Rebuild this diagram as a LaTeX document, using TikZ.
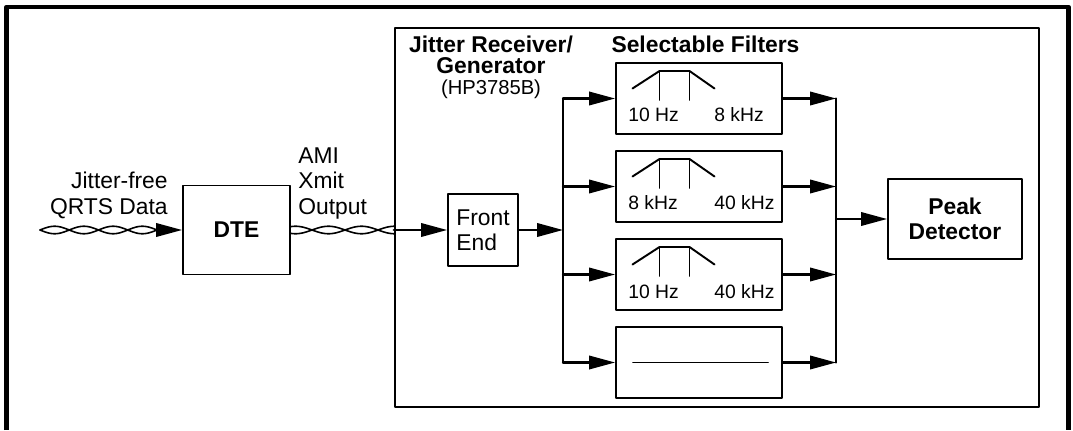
\documentclass[tikz,border=0pt]{standalone}
\usepackage{fontspec}
\setmainfont{Liberation Sans}
\usetikzlibrary{arrows.meta}

\begin{document}
\begin{tikzpicture}[line cap=round,line join=round,
  >={Triangle[length=0.52cm,width=0.27cm]},
  txt/.style={font=\fontsize{13}{14.5}\selectfont},
  bold/.style={font=\fontsize{13}{14.5}\selectfont\bfseries},
  flbl/.style={font=\fontsize{11}{13}\selectfont,inner sep=0pt,anchor=base west},
  blk/.style={draw,line width=1.1pt,inner sep=0pt,align=center},
  filt/.style={blk,minimum width=3.32cm,minimum height=1.42cm},
  wire/.style={line width=1.2pt},
  band/.style={line width=1.1pt},
  pair/.style={line width=0.9pt},
  frame/.style={line width=2.5pt,line cap=butt}]

  \useasboundingbox (0,0) rectangle (21.46,8.6);
  % outer frame, open at the bottom
  \draw[frame] (0.13,0) -- (0.13,8.46) -- (21.37,8.46) -- (21.37,0);

  % ---- test set housing ----
  \node[blk,line width=1.4pt,minimum width=12.88cm,minimum height=7.58cm] (rx) at (14.34,4.25) {};
  \node[bold,font=\fontsize{13}{12}\selectfont\bfseries,anchor=base,align=center,inner sep=0pt] (rxlbl) at (9.82,6.70)
    {Jitter Receiver/\\Generator\\{\normalfont\fontsize{11.5}{12}\selectfont(HP3785B)}};
  \node[bold,anchor=base,inner sep=0pt] (sellbl) at (14.11,7.54) {Selectable Filters};

  % ---- blocks ----
  \node[blk,bold,minimum width=2.14cm,minimum height=1.78cm] (dte) at (4.73,4.0) {DTE};
  \node[blk,txt,align=left,minimum width=1.4cm,minimum height=1.44cm] (fe) at (9.66,4.0) {Front\\End};
  \node[blk,bold,minimum width=2.68cm,minimum height=1.6cm] (pk) at (19.1,4.22) {Peak\\Detector};

  \node[filt] (f1) at (13.98,6.63) {};
  \node[filt] (f2) at (13.98,4.87) {};
  \node[filt] (f3) at (13.98,3.11) {};
  \node[filt] (f4) at (13.98,1.35) {};

  % passbands
  \draw[band] (12.65,6.83) -- (13.19,7.18) -- (13.79,7.18) -- (14.29,6.83);
  \draw[band] (13.19,7.18) -- (13.19,6.60) (13.79,7.18) -- (13.79,6.60);
  \node[flbl] (f1lo) at (12.56,6.16) {10 Hz};
  \node[flbl] (f1hi) at (14.28,6.16) {8 kHz};

  \draw[band] (12.65,5.07) -- (13.19,5.42) -- (13.79,5.42) -- (14.29,5.07);
  \draw[band] (13.19,5.42) -- (13.19,4.84) (13.79,5.42) -- (13.79,4.84);
  \node[flbl] (f2lo) at (12.56,4.40) {8 kHz};
  \node[flbl] (f2hi) at (14.28,4.40) {40 kHz};

  \draw[band] (12.65,3.31) -- (13.19,3.66) -- (13.79,3.66) -- (14.29,3.31);
  \draw[band] (13.19,3.66) -- (13.19,3.08) (13.79,3.66) -- (13.79,3.08);
  \node[flbl] (f3lo) at (12.56,2.64) {10 Hz};
  \node[flbl] (f3hi) at (14.28,2.64) {40 kHz};

  % all-pass
  \draw[band] (12.66,1.35) -- (15.36,1.35);

  % ---- input side ----
  \node[txt,anchor=base east,align=right,inner sep=0pt] (jfree) at (3.36,4.32) {Jitter-free\\QRTS Data};
  \node[txt,anchor=base west,align=left,inner sep=0pt] (ami) at (5.96,4.32) {AMI\\Xmit\\Output};

  % twisted pairs
  \coordinate (srcend) at (3.14,4.0);
  \draw[pair] plot[domain=0.80:3.14,samples=90,smooth] (\x,{4.0+0.075*sin(180*(\x-0.80)/0.585)});
  \draw[pair] plot[domain=0.80:3.14,samples=90,smooth] (\x,{4.0-0.075*sin(180*(\x-0.80)/0.585)});
  \draw[wire,->] (srcend) -- (dte.west);
  \draw[pair] plot[domain=5.80:7.90,samples=90,smooth] (\x,{4.0+0.075*sin(180*(\x-6.24)/0.66)});
  \draw[pair] plot[domain=5.80:7.90,samples=90,smooth] (\x,{4.0-0.075*sin(180*(\x-6.24)/0.66)});

  % ---- signal path ----
  \coordinate (busL) at (11.26,4.0);
  \coordinate (busR) at (16.72,4.0);
  \draw[wire,->] (fe.west -| rx.west) -- (fe.west);
  \draw[wire,->] (fe.east) -- (fe.east -| busL);
  \draw[wire] (f1.west -| busL) -- (f4.west -| busL);
  \draw[wire,->] (f1.west -| busL) -- (f1.west);
  \draw[wire,->] (f2.west -| busL) -- (f2.west);
  \draw[wire,->] (f3.west -| busL) -- (f3.west);
  \draw[wire,->] (f4.west -| busL) -- (f4.west);
  \draw[wire,->] (f1.east) -- (f1.east -| busR);
  \draw[wire,->] (f2.east) -- (f2.east -| busR);
  \draw[wire,->] (f3.east) -- (f3.east -| busR);
  \draw[wire,->] (f4.east) -- (f4.east -| busR);
  \draw[wire] (f1.east -| busR) -- (f4.east -| busR);
  \draw[wire,->] (pk.west -| busR) -- (pk.west);
\end{tikzpicture}
\end{document}
